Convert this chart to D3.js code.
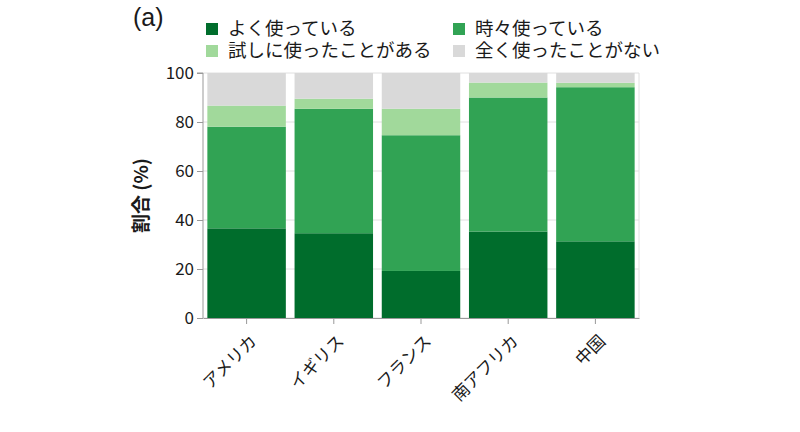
<!DOCTYPE html>
<html>
<head>
<meta charset="utf-8">
<script src="https://cdn.jsdelivr.net/npm/d3@7"></script>
<style>
  body { margin: 0; background: #fff; }
  text { font-family: "Noto Sans CJK JP", "Noto Sans", sans-serif; fill: #1a1a1a; }
</style>
</head>
<body>
<div class="chart-wrapper"></div>
<script>

const countries = ['アメリカ', 'イギリス', 'フランス', '南アフリカ', '中国']
const categories = ['よく使っている', '時々使っている', '試しに使ったことがある', '全く使ったことがない']

const often = [36.6, 34.6, 19.2, 35.3, 31.3]
const sometimes = [41.5, 50.8, 55.4, 54.7, 62.9]
const tried = [8.6, 4.1, 10.8, 6.1, 1.8]
const never = [13.3, 10.5, 14.6, 3.9, 4.0]

const yTicks = [0, 20, 40, 60, 80, 100]
const colors = ['#006d2c', '#31a354', '#a1d99b', '#d9d9d9']

const width = 800
const height = 432
const margin = {left:203, top:73, right:161, bottom:114}

const rows = countries.map((c, i) => ({
	country: c,
	[categories[0]]: often[i],
	[categories[1]]: sometimes[i],
	[categories[2]]: tried[i],
	[categories[3]]: never[i]
}))

const svg = d3.select('.chart-wrapper')
.append('svg')
.attr('width', width)
.attr('height', height)

const xScale = d3.scaleBand()
.domain(countries)
.range([margin.left, width - margin.right])
.paddingInner(0.1)
.paddingOuter(0.05)

const yScale = d3.scaleLinear()
.domain([0, 100])
.range([height - margin.bottom, margin.top])

const colorScale = d3.scaleOrdinal()
.domain(categories)
.range(colors)

// grid + frame
const grid = svg.append('g')

grid.selectAll('line')
.data(yTicks)
.enter()
.append('line')
.attr('x1', margin.left)
.attr('x2', width - margin.right)
.attr('y1', d => yScale(d))
.attr('y2', d => yScale(d))
.attr('stroke', '#e0e0e0')

grid.append('line')
.attr('x1', width - margin.right)
.attr('x2', width - margin.right)
.attr('y1', margin.top)
.attr('y2', height - margin.bottom)
.attr('stroke', '#e0e0e0')

// bars
const stack = d3.stack().keys(categories)(rows)

svg.append('g')
.selectAll('g')
.data(stack)
.enter()
.append('g')
.attr('fill', d => colorScale(d.key))
.selectAll('rect')
.data(d => d)
.enter()
.append('rect')
.attr('x', d => xScale(d.data.country))
.attr('width', xScale.bandwidth())
.attr('y', d => yScale(d[1]))
.attr('height', d => yScale(d[0]) - yScale(d[1]))

// axes
const yAxis = svg.append('g')
.attr('transform', `translate(${margin.left},0)`)
.call(d3.axisLeft(yScale).tickValues(yTicks).tickSize(6).tickPadding(3))

yAxis.select('.domain').attr('stroke', '#999').attr('d', `M-6,${yScale(100)}H0V${yScale(0)}`)
yAxis.selectAll('.tick line').attr('stroke', '#999')
yAxis.selectAll('text').style('font-size', '17px').attr('fill', '#1a1a1a')

const xAxis = svg.append('g')
.attr('transform', `translate(0,${height - margin.bottom})`)
.call(d3.axisBottom(xScale).tickSize(6).tickSizeOuter(0))

xAxis.select('.domain').attr('stroke', '#999')
xAxis.selectAll('.tick line').attr('stroke', '#999')
xAxis.selectAll('text')
.style('font-size', '17px')
.attr('fill', '#1a1a1a')
.attr('text-anchor', 'end')
.attr('y', 0)
.attr('dy', '0.35em')
.attr('transform', 'translate(7,20) rotate(-45)')

// y title
svg.append('text')
.attr('transform', `translate(148,${(margin.top + height - margin.bottom) / 2}) rotate(-90)`)
.attr('text-anchor', 'middle')
.style('font-size', '19px')
.style('font-weight', 'bold')
.text('割合 (%)')

// panel label
svg.append('text')
.attr('x', 133)
.attr('y', 26)
.style('font-family', '"Liberation Sans", Arial, sans-serif')
.style('font-size', '25px')
.text('(a)')

// legend
const legend = svg.append('g')

const legendItems = legend.selectAll('g')
.data(categories)
.enter()
.append('g')
.attr('transform', (d, i) => `translate(${i % 2 == 0 ? 206 : 453},${i < 2 ? 23 : 45})`)

legendItems.append('rect')
.attr('width', 12)
.attr('height', 12)
.attr('fill', d => colorScale(d))

legendItems.append('text')
.attr('x', 22)
.attr('y', 6)
.attr('dy', '0.35em')
.style('font-size', '18.5px')
.text(d => d)

</script>
</body>
</html>
